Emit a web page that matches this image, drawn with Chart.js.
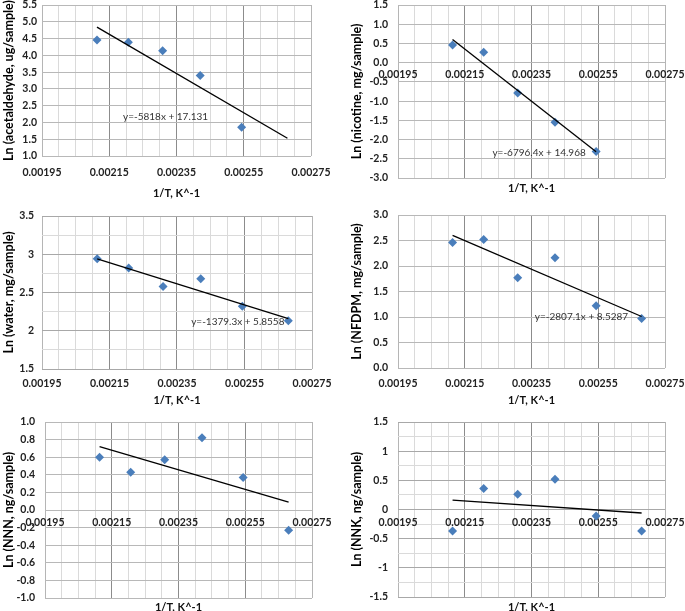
<!DOCTYPE html>
<html>
<head>
<meta charset="utf-8">
<script src="https://cdn.jsdelivr.net/npm/chart.js@4.4.1/dist/chart.umd.min.js"></script>
<style>
    body { margin: 0; background: #fff; width: 685px; height: 611px; overflow: hidden; position: relative; }
    canvas { position: absolute; }
</style>
</head>
<body>
<canvas id="c1" width="340" height="200" style="left:0;top:0"></canvas>
<canvas id="c2" width="345" height="200" style="left:340px;top:0"></canvas>
<canvas id="c3" width="340" height="203" style="left:0;top:205px"></canvas>
<canvas id="c4" width="345" height="203" style="left:340px;top:205px"></canvas>
<canvas id="c5" width="340" height="207" style="left:0;top:408px"></canvas>
<canvas id="c6" width="345" height="207" style="left:340px;top:408px"></canvas>
<script>
// 1/T for 200, 180, 160, 140, 120, 100 °C
const invT = [0.0021135, 0.0022068, 0.0023087, 0.0024204, 0.0025436, 0.0026799];

const acetaldehyde = [4.46, 4.39, 4.14, 3.40, 1.86];
const nicotine = [0.46, 0.27, -0.79, -1.55, -2.31];
const water = [2.94, 2.82, 2.58, 2.68, 2.32, 2.13];
const nfdpm = [2.46, 2.52, 1.77, 2.16, 1.22, 0.97];
const nnn = [0.60, 0.43, 0.57, 0.82, 0.37, -0.23];
const nnk = [-0.37, 0.36, 0.26, 0.52, -0.11, -0.37];

// trend line end values (first and last x of each fit)
const acetTrend = [4.84, 1.53];
const nicTrend = [0.60, -2.32];
const waterTrend = [2.94, 2.16];
const nfdpmTrend = [2.60, 1.01];
const nnnTrend = [0.72, 0.09];
const nnkTrend = [0.16, -0.06];

const equations = ['y=-5818x + 17.131', 'y=-6796.4x + 14.968', 'y=-1379.3x + 5.8558', 'y=-2807.1x + 8.5287'];

const FONT = 'Lato';

const eqPlugin = {
    id: 'eq',
    afterDatasetsDraw(chart, args, opts) {
        if (!opts.text) return;
        const { ctx, scales } = chart;
        ctx.save();
        ctx.font = '10px ' + FONT;
        ctx.fillStyle = '#333';
        ctx.textBaseline = 'middle';
        ctx.fillText(opts.text, scales.x.getPixelForValue(opts.x), scales.y.getPixelForValue(opts.y));
        ctx.restore();
    }
};

const panels = [
    { id: 'c1', ys: acetaldehyde, trend: acetTrend, tx: [invT[0], invT[5]], title: 'Ln (acetaldehyde, ug/sample)',
      yMin: 1, yMax: 5.5, yStep: 0.5, minor: false, eq: equations[0], eqX: 0.002191, eqY: 2.17,
      pad: { top: 5, right: 29, bottom: 0, left: 0 }, yW: 42, xH: 44, floating: false, xPad: 10, yPad: 5, tPad: 1, xtPb: 0 },
    { id: 'c2', ys: nicotine, trend: nicTrend, tx: [invT[0], invT[4]], title: 'Ln (nicotine, mg/sample)',
      yMin: -3, yMax: 1.5, yStep: 0.5, minor: false, eq: equations[1], eqX: 0.002233, eqY: -2.35,
      pad: { top: 5, right: 20, bottom: 0, left: 0 }, yW: 58, xH: 22, floating: true, xPad: 6, yPad: 10, tPad: 9, xtPb: 5 },
    { id: 'c3', ys: water, trend: waterTrend, tx: [invT[0], invT[5]], title: 'Ln (water, mg/sample)',
      yMin: 1.5, yMax: 3.5, yStep: 0.25, minor: true, eq: equations[2], eqX: 0.002392, eqY: 2.115,
      pad: { top: 11, right: 28, bottom: 0, left: 0 }, yW: 42, xH: 39, floating: false, xPad: 8, yPad: 8, tPad: 1, xtPb: 1 },
    { id: 'c4', ys: nfdpm, trend: nfdpmTrend, tx: [invT[0], invT[5]], title: 'Ln (NFDPM, mg/sample)',
      yMin: 0, yMax: 3, yStep: 0.5, minor: false, eq: equations[3], eqX: 0.00236, eqY: 1.0,
      pad: { top: 10, right: 20, bottom: 0, left: 0 }, yW: 58, xH: 40, floating: false, xPad: 9, yPad: 10, tPad: 9, xtPb: 1 },
    { id: 'c5', ys: nnn, trend: nnnTrend, tx: [invT[0], invT[5]], title: 'Ln (NNN, ng/sample)',
      yMin: -1, yMax: 1, yStep: 0.2, minor: false, eq: null,
      pad: { top: 14, right: 28, bottom: 0, left: 0 }, yW: 45, xH: 17, floating: true, xPad: 6, yPad: 10, tPad: 1, xtPb: 1 },
    { id: 'c6', ys: nnk, trend: nnkTrend, tx: [invT[0], invT[5]], title: 'Ln (NNK, ng/sample)',
      yMin: -1.5, yMax: 1.5, yStep: 0.25, minor: true, eq: null,
      pad: { top: 14, right: 20, bottom: 0, left: 0 }, yW: 58, xH: 18, floating: true, xPad: 7, yPad: 10, tPad: 9, xtPb: 1 }
];

function xGridColor(c) {
    if (c.index % 4 !== 0) return '#dadada';
    if (c.index === 0 || c.index === 16) return '#b5b5b5';
    return '#8c8c8c';
}

panels.forEach(p => {
    const xTitle = { display: true, text: '1/T, K^-1', color: '#111',
        font: { family: FONT, size: 11, weight: 'bold' }, padding: { top: 0, bottom: p.xtPb } };

    const scales = {
        x: {
            type: 'linear',
            axis: 'x',
            position: p.floating ? { y: 0 } : 'bottom',
            min: 0.00195, max: 0.00275,
            ticks: {
                stepSize: 0.00005, autoSkip: false, maxRotation: 0, padding: p.xPad,
                color: '#222', font: { family: FONT, size: 10.5, weight: 'bold' },
                callback: (v, i) => i % 4 === 0 ? v.toFixed(5) : ''
            },
            grid: { color: xGridColor, drawTicks: false },
            border: { display: false },
            title: p.floating ? { display: false } : xTitle,
            afterFit: s => { s.height = p.xH; s.paddingLeft = 0; s.paddingRight = 0; }
        },
        y: {
            type: 'linear',
            position: 'left',
            min: p.yMin, max: p.yMax,
            ticks: {
                stepSize: p.yStep, autoSkip: false, padding: p.yPad,
                color: '#222', font: { family: FONT, size: 10.5, weight: 'bold' },
                callback: (v, i) => {
                    if (p.minor) return i % 2 === 0 ? String(Number(v.toFixed(2))) : '';
                    return v.toFixed(1);
                }
            },
            grid: {
                drawTicks: false,
                color: c => p.minor ? (c.index % 2 === 0 ? '#a8a8a8' : '#dadada') : '#b8b8b8'
            },
            border: { display: false },
            title: { display: true, text: p.title, color: '#000',
                font: { family: FONT, size: 12.5, weight: 'bold' }, padding: { top: p.tPad, bottom: 0 } },
            afterFit: s => { s.width = p.yW; s.paddingTop = 0; s.paddingBottom = 0; }
        }
    };

    if (p.floating) {
        scales.xt = {
            type: 'linear',
            axis: 'x',
            position: 'bottom',
            ticks: { display: false },
            grid: { display: false, drawTicks: false },
            border: { display: false },
            title: xTitle,
            afterFit: s => { s.height = p.xH; s.paddingLeft = 0; s.paddingRight = 0; }
        };
    }

    new Chart(document.getElementById(p.id), {
        type: 'scatter',
        data: {
            datasets: [
                {
                    label: 'trend',
                    type: 'line',
                    data: p.tx.map((x, i) => ({ x: x, y: p.trend[i] })),
                    xAxisID: 'x', yAxisID: 'y',
                    borderColor: '#000',
                    borderWidth: 1.3,
                    pointRadius: 0,
                    fill: false,
                    order: 0
                },
                {
                    label: 'data',
                    data: p.ys.map((y, i) => ({ x: invT[i], y: y })),
                    xAxisID: 'x', yAxisID: 'y',
                    pointStyle: 'rectRot',
                    pointRadius: 4.5,
                    backgroundColor: '#4a7ebb',
                    borderColor: '#4a7ebb',
                    borderWidth: 0,
                    order: 1
                }
            ]
        },
        options: {
            responsive: false,
            animation: false,
            layout: { padding: p.pad },
            plugins: {
                legend: { display: false },
                tooltip: { enabled: false },
                eq: { text: p.eq, x: p.eqX, y: p.eqY }
            },
            scales: scales
        },
        plugins: [eqPlugin]
    });
});
</script>
</body>
</html>
